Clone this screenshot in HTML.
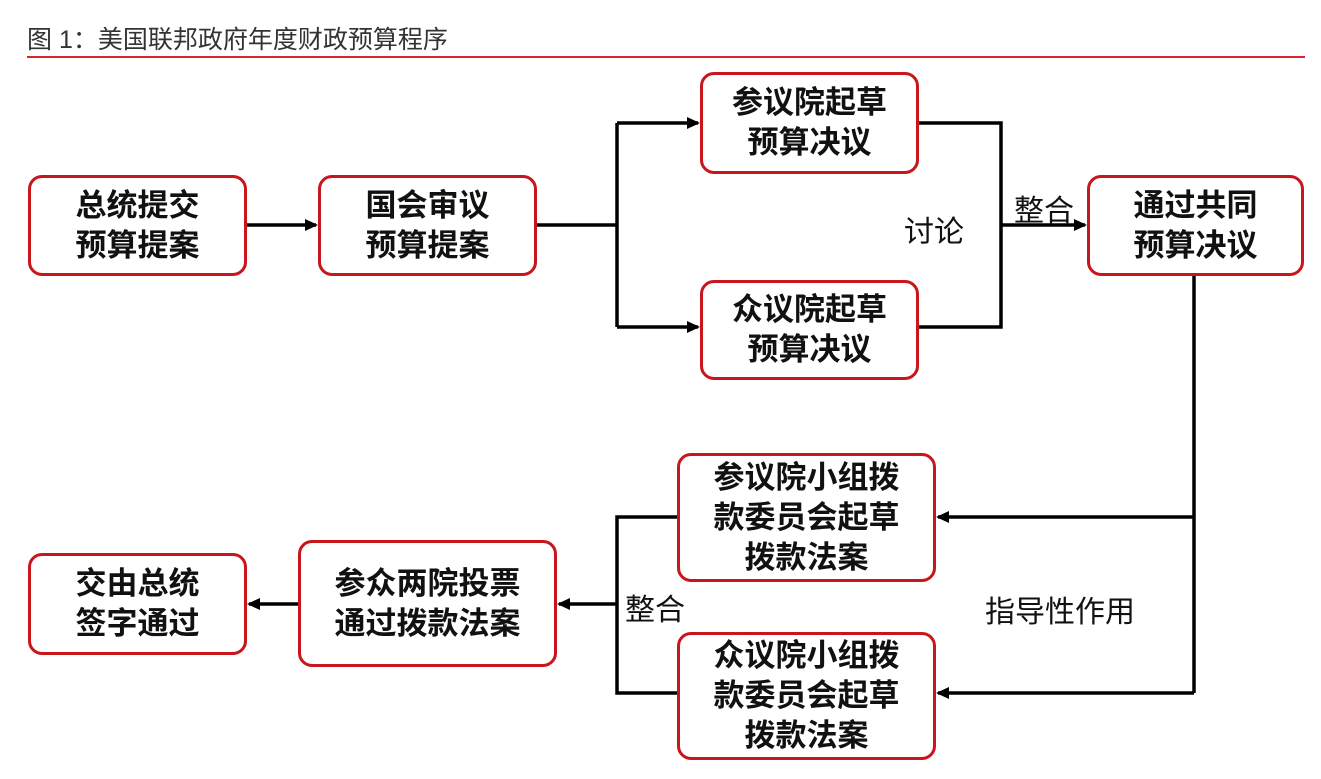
<!DOCTYPE html>
<html><head><meta charset="utf-8"><style>
html,body{margin:0;padding:0;background:#fff;}
body{width:1321px;height:779px;overflow:hidden;position:relative;font-family:"Liberation Sans","Noto Sans CJK SC",sans-serif;}
.t{position:absolute;left:27px;top:20px;font-size:25px;color:#333;white-space:nowrap;}
.hr{position:absolute;left:27px;top:56px;width:1278px;height:2px;background:#d9262b;}
.b{position:absolute;box-sizing:border-box;border:3px solid #c8161d;border-radius:14px;background:#fff;display:flex;align-items:center;justify-content:center;text-align:center;font-size:31px;line-height:40px;font-weight:bold;color:#111;}
.l{position:absolute;font-size:30px;color:#111;white-space:nowrap;}
svg{position:absolute;left:0;top:0;}
</style></head><body>
<div class="t">图 1：美国联邦政府年度财政预算程序</div>
<div class="hr"></div>
<svg width="1321" height="779">
<defs><marker id="a" markerWidth="13" markerHeight="12" refX="11" refY="6" orient="auto" markerUnits="userSpaceOnUse"><path d="M0,0 L13,6 L0,12 z" fill="#000"/></marker></defs>
<g stroke="#000" stroke-width="3.5" fill="none">
<line x1="247" y1="225" x2="316" y2="225" marker-end="url(#a)"/>
<polyline points="537,225 617,225"/>
<polyline points="617,123 617,327"/>
<line x1="617" y1="123" x2="698" y2="123" marker-end="url(#a)"/>
<line x1="617" y1="327" x2="698" y2="327" marker-end="url(#a)"/>
<polyline points="919,123 1001,123 1001,327 919,327"/>
<line x1="1001" y1="225" x2="1085" y2="225" marker-end="url(#a)"/>
<polyline points="1194,276 1194,693"/>
<line x1="1194" y1="517" x2="938" y2="517" marker-end="url(#a)"/>
<line x1="1194" y1="693" x2="938" y2="693" marker-end="url(#a)"/>
<polyline points="677,517 617,517 617,693 677,693"/>
<line x1="617" y1="604" x2="559" y2="604" marker-end="url(#a)"/>
<line x1="298" y1="604" x2="249" y2="604" marker-end="url(#a)"/>
</g></svg>
<div class="b" style="left:28px;top:175px;width:219px;height:101px">总统提交<br>预算提案</div>
<div class="b" style="left:318px;top:175px;width:219px;height:101px">国会审议<br>预算提案</div>
<div class="b" style="left:700px;top:72px;width:219px;height:102px">参议院起草<br>预算决议</div>
<div class="b" style="left:700px;top:280px;width:219px;height:100px">众议院起草<br>预算决议</div>
<div class="b" style="left:1087px;top:175px;width:217px;height:101px">通过共同<br>预算决议</div>
<div class="b" style="left:677px;top:453px;width:259px;height:129px">参议院小组拨<br>款委员会起草<br>拨款法案</div>
<div class="b" style="left:677px;top:632px;width:259px;height:128px">众议院小组拨<br>款委员会起草<br>拨款法案</div>
<div class="b" style="left:298px;top:540px;width:259px;height:127px">参众两院投票<br>通过拨款法案</div>
<div class="b" style="left:28px;top:553px;width:219px;height:102px">交由总统<br>签字通过</div>
<div class="l" style="left:904px;top:207px">讨论</div>
<div class="l" style="left:1014px;top:186px">整合</div>
<div class="l" style="left:625px;top:585px">整合</div>
<div class="l" style="left:985px;top:587px">指导性作用</div>
</body></html>
